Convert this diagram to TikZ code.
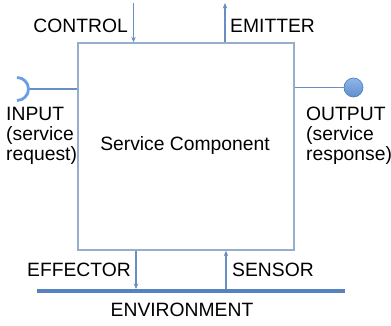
\documentclass[tikz,border=0pt]{standalone}
\usepackage{fontspec}
\setmainfont{Liberation Sans}
\usetikzlibrary{arrows.meta}
\definecolor{boxline}{HTML}{95AECB}
\definecolor{flowline}{HTML}{6A8DC2}
\definecolor{envblue}{HTML}{5682C0}
\definecolor{ballfill}{HTML}{6A9EE2}
\definecolor{balledge}{HTML}{4A78BE}
\tikzset{
  lbl/.style={font=\fontsize{19.3}{20}\selectfont, inner sep=0pt},
  flow/.style={draw=flowline, line width=1.5pt, -{Stealth[length=5.5pt,width=4.5pt]}},
  compbox/.style={draw=boxline, line width=1.4pt, minimum width=216pt, minimum height=207pt, inner sep=0pt},
  envbar/.style={draw=envblue, line width=4pt},
  wire/.style={draw=flowline, line width=1.8pt},
}
\begin{document}
\begin{tikzpicture}[x=1pt,y=-1pt]
  \useasboundingbox (0,0) rectangle (391,326);

  % the component itself
  \node[compbox] (box) at (186,146.5) {};
  \node[lbl, anchor=base] (title) at (185,150) {Service Component};

  % top ports
  \coordinate (ctop) at (133.5,3);
  \coordinate (etop) at (225,3);
  \draw[flow] (ctop) -- (ctop |- box.north);
  \draw[flow] (etop |- box.north) -- (etop);
  \node[lbl, anchor=base east] (control) at (128,33) {CONTROL};
  \node[lbl, anchor=base west] (emitter) at (230,33) {EMITTER};

  % environment and bottom ports
  \coordinate (envL) at (37,291);
  \coordinate (envR) at (345,291);
  \draw[envbar] (envL) -- (envR);
  \coordinate (eff) at (136,289);
  \coordinate (sen) at (226,289);
  \draw[flow] (eff |- box.south) -- (eff);
  \draw[flow] (sen) -- (sen |- box.south);
  \node[lbl, anchor=base east] (effector) at (131,276) {EFFECTOR};
  \node[lbl, anchor=base west] (sensor) at (232,276) {SENSOR};
  \node[lbl, anchor=base] (environment) at (182,316) {ENVIRONMENT};

  % required interface (socket) on the left
  \coordinate (sock) at (28.5,89);
  \draw[wire] (sock) -- (sock -| box.west);
  \draw[draw=ballfill, line width=2.8pt] (17,77.5) arc[start angle=-90, end angle=90, radius=11.5];
  \node[lbl, anchor=base west] (input) at (6,121) {INPUT};
  \node[lbl, anchor=base west] (inreq1) at (6,141) {(service};
  \node[lbl, anchor=base west] (inreq2) at (6,160.5) {request)};

  % provided interface (ball) on the right
  \node[circle, minimum size=19pt, inner sep=0pt, draw=balledge, line width=0.6pt,
        top color=ballfill!75!white, bottom color=ballfill!90!black] (ball) at (353.5,87.5) {};
  \draw[wire] (box.east |- ball) -- (ball.west);
  \node[lbl, anchor=base west] (output) at (306,121) {OUTPUT};
  \node[lbl, anchor=base west] (outres1) at (306,141) {(service};
  \node[lbl, anchor=base west] (outres2) at (306,160.5) {response)};
\end{tikzpicture}
\end{document}
